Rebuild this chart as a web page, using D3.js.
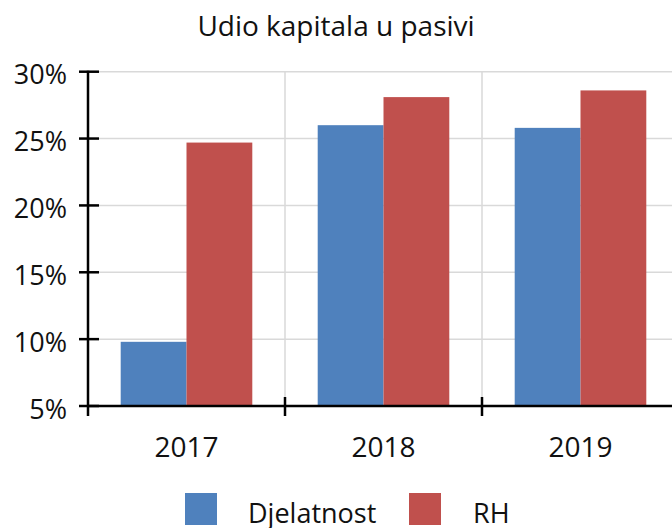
<!DOCTYPE html>
<html><head><meta charset="utf-8">
<script src="https://cdn.jsdelivr.net/npm/d3@7"></script>
<style>body{margin:0;background:#fff}svg{display:block}text{font-family:"Segoe UI","Open Sans","Noto Sans",sans-serif;fill:#111}</style>
</head><body>
<svg id="c" width="672" height="528"></svg>
<script>
const title = "Udio kapitala u pasivi";
const categories = ["2017", "2018", "2019"];
const seriesNames = ["Djelatnost", "RH"];
const djelatnost = [0.098, 0.260, 0.258];
const rh = [0.247, 0.281, 0.286];
const yTicks = [0.05, 0.10, 0.15, 0.20, 0.25, 0.30];
const colors = ["#4f81bd", "#c0504d"];

const svg = d3.select("#c");
const pLeft = 88, pRight = 679, pTop = 71.7, pBottom = 406;
const x0 = d3.scaleBand().domain(categories).range([pLeft, pRight]).padding(0);
const bw = x0.bandwidth();
const x1 = d3.scaleBand().domain(seriesNames).range([bw * 0.166, bw * 0.834]).padding(0);
const y = d3.scaleLinear().domain([0.05, 0.30]).range([pBottom, pTop]);

// gridlines
const g = svg.append("g");
g.selectAll("line.h").data(yTicks).join("line")
  .attr("x1", pLeft).attr("x2", 672).attr("y1", d => y(d)).attr("y2", d => y(d))
  .attr("stroke", "#d9d9d9").attr("stroke-width", 1.5);
g.selectAll("line.v").data(categories.slice(1)).join("line")
  .attr("x1", d => x0(d)).attr("x2", d => x0(d)).attr("y1", pTop).attr("y2", pBottom)
  .attr("stroke", "#d9d9d9").attr("stroke-width", 1.5);

// bars
const data = categories.map((c, i) => ({c, vals: [djelatnost[i], rh[i]]}));
const grp = svg.append("g").selectAll("g").data(data).join("g")
  .attr("transform", d => `translate(${x0(d.c)},0)`);
grp.selectAll("rect").data(d => d.vals.map((v, j) => ({s: seriesNames[j], v, j}))).join("rect")
  .attr("x", d => x1(d.s)).attr("width", x1.bandwidth())
  .attr("y", d => y(d.v)).attr("height", d => pBottom - y(d.v))
  .attr("fill", d => colors[d.j]);

// y axis
const yAxis = d3.axisLeft(y).tickValues(yTicks).tickFormat(d3.format(".0%")).tickSize(0).tickPadding(21);
const ya = svg.append("g").attr("transform", `translate(${pLeft},0)`).call(yAxis);
ya.select(".domain").remove();
ya.selectAll("text").style("font-size", "27px").attr("fill", "#111").attr("dy", "0.45em");
svg.append("g").selectAll("line").data(yTicks).join("line")
  .attr("x1", pLeft - 9).attr("x2", pLeft + 11).attr("y1", d => y(d)).attr("y2", d => y(d))
  .attr("stroke", "#000").attr("stroke-width", 2.5);
svg.append("line").attr("x1", pLeft).attr("x2", pLeft).attr("y1", pTop - 1).attr("y2", pBottom + 10)
  .attr("stroke", "#000").attr("stroke-width", 2.5);

// x axis
const xa = svg.append("g").attr("transform", `translate(0,${pBottom})`)
  .call(d3.axisBottom(x0).tickSize(0).tickPadding(31));
xa.select(".domain").remove();
xa.selectAll("text").style("font-size", "28px").attr("fill", "#111");
svg.append("line").attr("x1", pLeft).attr("x2", 672).attr("y1", pBottom).attr("y2", pBottom)
  .attr("stroke", "#000").attr("stroke-width", 2.5);
svg.append("g").selectAll("line").data(categories.slice(1)).join("line")
  .attr("x1", d => x0(d)).attr("x2", d => x0(d)).attr("y1", pBottom - 9).attr("y2", pBottom + 10)
  .attr("stroke", "#000").attr("stroke-width", 2.5);

// title
svg.append("text").attr("x", 336).attr("y", 36).attr("text-anchor", "middle")
  .style("font-size", "28px").text(title);

// legend
const legX = [185, 409], legTX = [248, 473];
const leg = svg.append("g").selectAll("g").data(seriesNames).join("g");
leg.append("rect").attr("x", (d, i) => legX[i]).attr("y", 493).attr("width", 32).attr("height", 32)
  .attr("fill", (d, i) => colors[i]);
leg.append("text").attr("x", (d, i) => legTX[i]).attr("y", 523).style("font-size", "27px").text(d => d);
</script>
</body></html>
